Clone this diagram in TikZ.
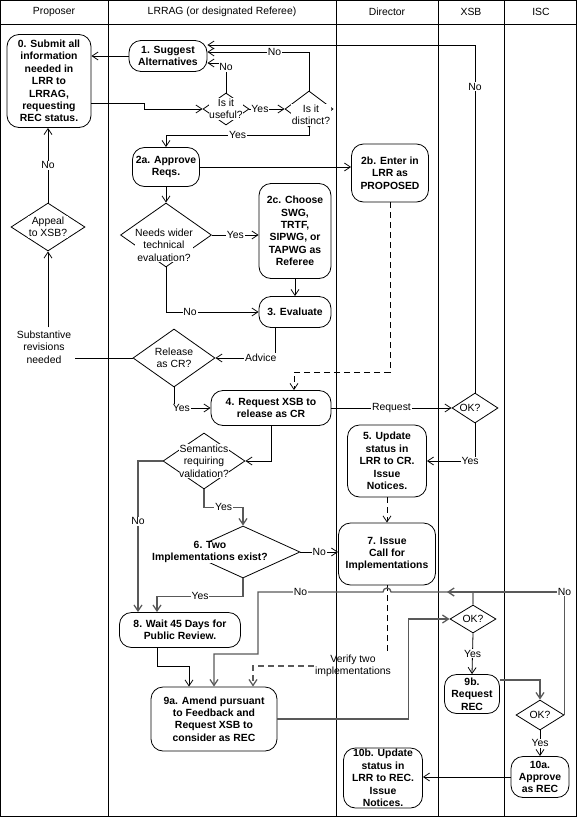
\documentclass[tikz,border=0pt]{standalone}
\usepackage{fontspec}
\setmainfont{Liberation Sans}
\usetikzlibrary{shapes.geometric,arrows.meta}

\begin{document}
\begin{tikzpicture}[
  x=1pt, y=-1pt, line width=0.8pt,
  >={Straight Barb[length=6pt,width=8pt]},
  every node/.style={font=\fontsize{10.4pt}{12.4pt}\selectfont},
  task/.style={draw, rounded corners=12pt, align=center, inner sep=0pt,
    font=\fontsize{10.4pt}{12.4pt}\selectfont\bfseries},
  decision/.style={draw, diamond, inner sep=0pt},
  dtext/.style={fill=white, align=center, inner sep=0.5pt},
  dtextb/.style={dtext, font=\fontsize{10.4pt}{12.4pt}\selectfont\bfseries},
  lbl/.style={fill=white, inner sep=0.8pt},
  greyflow/.style={draw=black!65, line width=1.3pt},
  dashflow/.style={dash pattern=on 6pt off 4pt}
]
  \useasboundingbox (0,0) rectangle (577,817);
  % lanes
  \draw (0.5,0.5) rectangle (576.5,816.5);
  \draw (0.5,24.5) -- (576.5,24.5);
  \foreach \x in {108.5,336.5,438.5,504.5}
    \draw (\x,0.5) -- (\x,816.5);
  \node (hProposer) at (54,12) {Proposer};
  \node (hLrrag) at (222,12) {LRRAG (or designated Referee)};
  \node (hDirector) at (387,12) {Director};
  \node (hXsb) at (471,12) {XSB};
  \node (hIsc) at (541,12) {ISC};

  % steps
  \node[task, minimum width=84pt, minimum height=93pt] (n0) at (49,81)
    {0. Submit all\\information\\needed in\\LRR to\\LRRAG,\\requesting\\REC status.};
  \node[task, minimum width=78pt, minimum height=31pt] (n1) at (168,56) {1. Suggest\\Alternatives};
  \node[task, minimum width=67pt, minimum height=39pt] (n2a) at (166,167) {2a. Approve\\Reqs.};
  \node[task, minimum width=77pt, minimum height=58pt] (n2b) at (390,173) {2b. Enter in\\LRR as\\PROPOSED};
  \node[task, minimum width=72pt, minimum height=95pt] (n2c) at (295,231)
    {2c. Choose\\SWG,\\TRTF,\\SIPWG, or\\TAPWG as\\Referee};
  \node[task, minimum width=72pt, minimum height=31pt] (n3) at (295,312) {3. Evaluate};
  \node[task, minimum width=120pt, minimum height=35pt] (n4) at (271,408) {4. Request XSB to\\release as CR};
  \node[task, minimum width=79pt, minimum height=72pt] (n5) at (387,461)
    {5. Update\\status in\\LRR to CR.\\Issue\\Notices.};
  \node[task, minimum width=97pt, minimum height=62pt] (n7) at (387,554) {7. Issue\\Call for\\Implementations};
  \node[task, minimum width=121pt, minimum height=35pt] (n8) at (180,630) {8. Wait 45 Days for\\Public Review.};
  \node[task, minimum width=126pt, minimum height=64pt] (n9a) at (214,719)
    {9a. Amend pursuant\\to Feedback and\\Request XSB to\\consider as REC};
  \node[task, minimum width=55pt, minimum height=39pt] (n9b) at (472,694) {9b.\\Request\\REC};
  \node[task, minimum width=58pt, minimum height=41pt] (n10a) at (540,777) {10a.\\Approve\\as REC};
  \node[task, minimum width=79pt, minimum height=60pt] (n10b) at (383,778)
    {10b. Update\\status in\\LRR to REC.\\Issue\\Notices.};

  % decisions
  \node[decision, minimum width=46pt, minimum height=32pt,
    label={[dtext]center:Is it\\useful?}] (useful) at (226,109) {};
  \node[decision, minimum width=48pt, minimum height=36pt,
    label={[dtext, xshift=2pt, yshift=-6pt]center:Is it\\distinct?}] (distinct) at (309,109) {};
  \node[decision, minimum width=74pt, minimum height=48pt,
    label={[dtext]center:Appeal\\to XSB?}] (appeal) at (48,227) {};
  \node[decision, minimum width=91pt, minimum height=64pt,
    label={[dtext, xshift=-2pt, yshift=-10pt]center:Needs wider\\technical\\evaluation?}] (needs) at (166,235) {};
  \node[decision, minimum width=82pt, minimum height=58pt,
    label={[dtext]center:Release\\as CR?}] (release) at (174,358) {};
  \node[decision, minimum width=46pt, minimum height=30pt,
    label={[dtext, xshift=-5pt]center:OK?}] (xsbok) at (475,408) {};
  \node[decision, minimum width=82pt, minimum height=56pt,
    label={[dtext]center:Semantics\\requiring\\validation?}] (sem) at (204,461) {};
  \node[decision, minimum width=114pt, minimum height=52pt,
    label={[dtextb, xshift=-33pt]center:6. Two\\Implementations exist?}] (d6) at (243,552) {};
  \node[decision, minimum width=46pt, minimum height=28pt,
    label={[dtext]center:OK?}] (xsbok2) at (473,619) {};
  \node[decision, minimum width=48pt, minimum height=30pt,
    label={[dtext]center:OK?}] (iscok) at (540,715) {};

  \node[align=center, inner sep=3pt] (subst) at (44,347) {Substantive\\revisions\\needed};
  \node[align=center, inner sep=1pt] (verify) at (353,666) {Verify two\\implementations};
  \coordinate (hop) at (387,592);
  \coordinate (loopA) at (258,592);
  \coordinate (noEnd) at (447,592);

  % connectors
  \draw[->] (n1.west) -- (n1.west -| n0.east);
  \draw[->] ([yshift=-22pt]n0.east) -- ++(53,0) |- (useful.west);
  \draw[->] (useful.north) |- ([yshift=-7pt]n1.east) node[lbl, pos=0.43] {No};
  \draw[->] (distinct.north) |- ([yshift=4pt]n1.east) node[lbl, pos=0.67] {No};
  \draw[->] (useful.east) -- (distinct.west) node[lbl, pos=0.3] {Yes};
  \draw[->] (distinct.south) -- ++(0,8) -| (n2a.north) node[lbl, pos=0.25] {Yes};
  \draw[->] (n2a.east) -- (n2a.east -| n2b.west);
  \draw[->] (xsbok.north) |- ([yshift=11pt]n1.east) node[lbl, pos=0.44] {No};
  \draw[->] (n2a) -- (needs);
  \draw[->] (needs.east) -- (needs.east -| n2c.west) node[lbl, midway] {Yes};
  \draw[->] (needs.south) |- (n3.west) node[lbl, pos=0.63] {No};
  \draw[->] (n2c) -- (n3);
  \draw[->] ([xshift=-20pt]n3.south) |- (release.east) node[lbl, pos=0.62] {Advice};
  \draw (release.west) -- (release.west -| subst.east);
  \draw[->] (appeal.south |- subst.north) -- (appeal.south);
  \draw[->] (appeal.north) -- (appeal.north |- n0.south) node[lbl, midway] {No};
  \draw[->] (release.south) |- (n4.west) node[lbl, pos=0.6] {Yes};
  \draw[->, dashflow] (n2b.south) -- ++(0,170) -| ([xshift=23pt]n4.north);
  \draw[->] (n4.east) -- (xsbok.west) node[lbl, midway] {Request};
  \draw[->] (xsbok.south) |- (n5.east) node[lbl, pos=0.55] {Yes};
  \draw[->, dashflow] (n5) -- (n7);
  \draw[->] (n4.south) |- (sem.east);
  \draw[->, greyflow] (sem.west) -| ([xshift=-42pt]n8.north) node[lbl, pos=0.7] {No};
  \draw[->, greyflow] (sem.south) -- ++(0,18) -| (d6.north) node[lbl, pos=0.25] {Yes};
  \draw[->] (d6.east) -- (d6.east -| n7.west) node[lbl, midway] {No};
  \draw[->, greyflow] (d6.south) -- ++(0,18) -| ([xshift=-23pt]n8.north) node[lbl, pos=0.25] {Yes};
  \draw[->] ([xshift=-23pt]n8.south) -- ++(0,18) -| ([xshift=-25pt]n9a.north);
  \draw[dashflow] (n7.south) -- (n7.south |- verify.north);
  \draw[->, dashflow, greyflow] (verify.west) -| ([xshift=39pt]n9a.north);
  \draw[->, greyflow] (xsbok2.north) |- ([xshift=4pt]hop)
    arc[start angle=0, end angle=180, radius=4pt]
    -- (loopA) node[lbl, pos=0.66] {No} -- ++(0,62) -| (n9a.north);
  \draw[->, greyflow] (iscok.east) |- (noEnd) node[lbl, pos=0.5] {No};
  \draw[->, greyflow] (n9a.east) -- ++(131,0) |- (xsbok2.west);
  \draw[->] (xsbok2.south) -- (n9b.north) node[lbl, midway] {Yes};
  \draw[->, greyflow] ([yshift=14pt]n9b.east) -| (iscok.north);
  \draw[->] (iscok.south) -- (n10a.north) node[lbl, midway] {Yes};
  \draw[->] (n10a.west) -- (n10a.west -| n10b.east);
\end{tikzpicture}
\end{document}
